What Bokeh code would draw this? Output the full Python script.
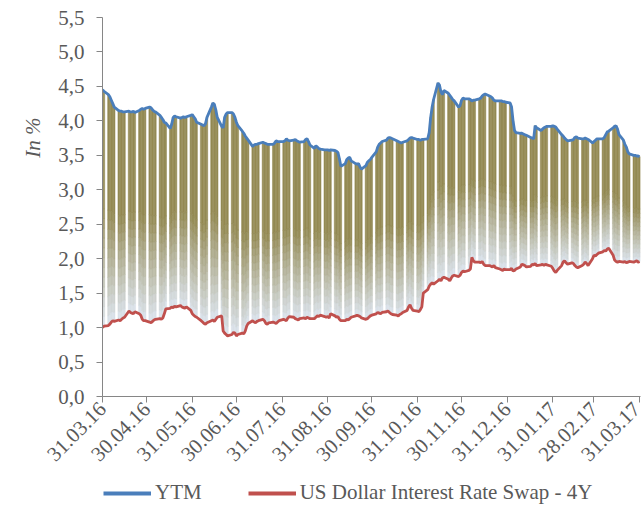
import math
import numpy as np
import pandas as pd
from bokeh.plotting import figure
from bokeh.layouts import column
from bokeh.models import (FixedTicker, CustomJSTickFormatter, Legend, LegendItem,
                          Title, Range1d, ColumnDataSource)
from bokeh.embed import file_html
from bokeh.resources import INLINE

# ---------------- data ----------------
dates = pd.bdate_range("2016-03-31", "2017-03-31")

ytm = [
    4.45, 4.43,
    4.38, 4.35, 4.30, 4.25, 4.20,
    4.15, 4.14, 4.14, 4.13, 4.13,
    4.14, 4.13, 4.13, 4.14, 4.12,
    4.15, 4.17, 4.18, 4.17, 4.18,
    4.20, 4.19, 4.16, 4.14, 4.13,
    4.08, 4.05, 4.02, 3.98, 3.97,
    3.89, 3.95, 4.05, 4.07, 4.06,
    4.04, 4.05, 4.06, 4.05, 4.06,
    4.08, 4.09, 4.06, 4.03, 3.98,
    3.95, 3.94, 3.93, 3.96, 4.05,
    4.20, 4.26, 4.24, 4.16, 4.05,
    3.92, 3.90, 4.05, 4.10, 4.12,
    4.12, 4.10, 4.05, 3.98, 3.93,
    3.85, 3.82, 3.78, 3.75, 3.72,
    3.63, 3.65, 3.66, 3.66, 3.67,
    3.69, 3.68, 3.67, 3.66, 3.66,
    3.66, 3.68, 3.71, 3.70, 3.70,
    3.70, 3.71, 3.74, 3.72, 3.71,
    3.72, 3.73, 3.71, 3.70, 3.69,
    3.70, 3.73, 3.74, 3.70, 3.65,
    3.60, 3.64, 3.62, 3.60, 3.59,
    3.58, 3.58, 3.58, 3.57, 3.58,
    3.57, 3.56, 3.54, 3.45, 3.34,
    3.38, 3.44, 3.46, 3.47, 3.42,
    3.38, 3.37, 3.38, 3.33, 3.30,
    3.35, 3.40, 3.42, 3.44, 3.47,
    3.55, 3.62, 3.66, 3.68, 3.70,
    3.72, 3.75, 3.76, 3.75, 3.74,
    3.71, 3.70, 3.69, 3.68, 3.69,
    3.71, 3.73, 3.75, 3.76, 3.75,
    3.73, 3.73, 3.72, 3.73, 3.73,
    3.74, 3.83, 4.05, 4.20, 4.31,
    4.55, 4.52, 4.42, 4.38, 4.44,
    4.40, 4.37, 4.34, 4.31, 4.29,
    4.20, 4.22, 4.30, 4.33, 4.32,
    4.32, 4.31, 4.29, 4.30, 4.30,
    4.32, 4.33, 4.36, 4.38, 4.39,
    4.36, 4.35, 4.33, 4.30, 4.29,
    4.29, 4.29, 4.28, 4.28, 4.27,
    4.26, 4.20, 4.00, 3.86, 3.83,
    3.82, 3.82, 3.81, 3.80, 3.79,
    3.76, 3.75, 3.74, 3.93, 3.90,
    3.86, 3.88, 3.90, 3.91, 3.92,
    3.92, 3.93, 3.92, 3.91, 3.88,
    3.80, 3.78, 3.75, 3.73, 3.71,
    3.72, 3.73, 3.76, 3.77, 3.75,
    3.74, 3.74, 3.75, 3.74, 3.73,
    3.68, 3.70, 3.72, 3.74, 3.74,
    3.74, 3.76, 3.80, 3.84, 3.85,
    3.90, 3.92, 3.93, 3.88, 3.80,
    3.72, 3.66, 3.62, 3.55, 3.52,
    3.50, 3.50, 3.49, 3.49, 3.48,
]

swap = [
    1.00, 1.02,
    1.03, 1.05, 1.08, 1.10, 1.09,
    1.11, 1.10, 1.12, 1.14, 1.15,
    1.24, 1.22, 1.21, 1.20, 1.23,
    1.20, 1.18, 1.12, 1.10, 1.10,
    1.08, 1.07, 1.09, 1.11, 1.12,
    1.13, 1.12, 1.14, 1.20, 1.27,
    1.28, 1.30, 1.29, 1.31, 1.30,
    1.32, 1.30, 1.29, 1.28, 1.30,
    1.25, 1.20, 1.18, 1.16, 1.15,
    1.10, 1.08, 1.06, 1.05, 1.07,
    1.10, 1.11, 1.09, 1.12, 1.15,
    1.17, 0.95, 0.92, 0.90, 0.88,
    0.90, 0.93, 0.92, 0.88, 0.90,
    0.92, 0.91, 0.95, 1.02, 1.06,
    1.10, 1.08, 1.07, 1.09, 1.10,
    1.12, 1.10, 1.06, 1.05, 1.07,
    1.08, 1.07, 1.06, 1.08, 1.10,
    1.12, 1.11, 1.10, 1.14, 1.16,
    1.15, 1.13, 1.12, 1.11, 1.13,
    1.14, 1.13, 1.15, 1.14, 1.13,
    1.13, 1.15, 1.17, 1.16, 1.18,
    1.16, 1.15, 1.16, 1.14, 1.20,
    1.17, 1.15, 1.16, 1.12, 1.10,
    1.10, 1.12, 1.11, 1.13, 1.15,
    1.17, 1.18, 1.17, 1.16, 1.14,
    1.12, 1.13, 1.15, 1.17, 1.18,
    1.20, 1.22, 1.21, 1.20, 1.22,
    1.23, 1.24, 1.22, 1.20, 1.19,
    1.18, 1.17, 1.19, 1.20, 1.22,
    1.25, 1.30, 1.33, 1.28, 1.25,
    1.24, 1.23, 1.26, 1.30, 1.50,
    1.55, 1.60, 1.63, 1.65, 1.63,
    1.68, 1.70, 1.68, 1.72, 1.73,
    1.70, 1.68, 1.72, 1.75, 1.76,
    1.74, 1.76, 1.80, 1.82, 1.81,
    1.83, 1.85, 2.02, 1.97, 1.95,
    1.95, 1.94, 1.96, 1.92, 1.90,
    1.90, 1.89, 1.88, 1.90, 1.87,
    1.85, 1.84, 1.83, 1.85, 1.84,
    1.84, 1.86, 1.82, 1.83, 1.85,
    1.88, 1.92, 1.91, 1.90, 1.88,
    1.89, 1.92, 1.91, 1.93, 1.90,
    1.91, 1.92, 1.90, 1.92, 1.91,
    1.89, 1.86, 1.82, 1.80, 1.83,
    1.90, 1.95, 1.97, 1.94, 1.92,
    1.94, 1.93, 1.90, 1.88, 1.87,
    1.90, 1.92, 1.95, 1.93, 1.90,
    2.00, 2.05, 2.04, 2.06, 2.08,
    2.10, 2.12, 2.11, 2.14, 2.15,
    2.05, 1.98, 1.96, 1.95, 1.96,
    1.95, 1.96, 1.94, 1.95, 1.96,
    1.95, 1.96, 1.97, 1.95, 1.96,
]

tick_dates = ["2016-03-31", "2016-04-30", "2016-05-31", "2016-06-30", "2016-07-31",
              "2016-08-31", "2016-09-30", "2016-10-31", "2016-11-30", "2016-12-31",
              "2017-01-31", "2017-02-28", "2017-03-31"]
y_ticks = [0.0, 0.5, 1.0, 1.5, 2.0, 2.5, 3.0, 3.5, 4.0, 4.5, 5.0, 5.5]

series_names = ["YTM", "US Dollar Interest Rate Swap - 4Y"]

assert len(ytm) == len(dates) and len(swap) == len(dates)

# ---------------- figure ----------------
DAY = 86400000.0
def ms(d):
    return pd.Timestamp(d).value / 1e6

x_ms = [ms(d) for d in dates]

FONT = "Liberation Serif"
FS = "21px"
TXT = "#595959"
AX = "#868686"
BLUE = "#4A7EBB"
RED = "#C0504D"
W = 641

p = figure(width=W, height=470, x_axis_type="datetime",
           output_backend="svg", toolbar_location=None,
           x_range=Range1d(ms(tick_dates[0]), ms(tick_dates[-1]) + 0.6 * DAY),
           y_range=Range1d(0, 5.5))
p.min_border_left = 102
p.min_border_right = 1
p.min_border_top = 17
p.min_border_bottom = 72
p.outline_line_color = None
p.xgrid.visible = False
p.ygrid.visible = False
p.background_fill_color = "white"
p.border_fill_color = "white"

# gradient bars between swap and ytm
olive = np.array([148, 138, 84], dtype=float)
light = np.array([220, 228, 238], dtype=float)
K = 12
L, R, B, T, C = [], [], [], [], []
for xm, lo, hi in zip(x_ms, swap, ytm):
    h = hi - lo
    for j in range(K):
        f0 = 0.5 * j / K
        f1 = 0.5 * (j + 1) / K
        t = (j + 0.5) / K
        col = light + (olive - light) * t
        L.append(xm - 0.5 * DAY); R.append(xm + 0.5 * DAY)
        B.append(lo + h * f0); T.append(lo + h * f1)
        C.append("#%02x%02x%02x" % tuple(int(round(v)) for v in col))
    L.append(xm - 0.5 * DAY); R.append(xm + 0.5 * DAY)
    B.append(lo + h * 0.5); T.append(hi)
    C.append("#%02x%02x%02x" % tuple(int(v) for v in olive))

bars = ColumnDataSource(dict(left=L, right=R, bottom=B, top=T, color=C))
p.quad(left="left", right="right", bottom="bottom", top="top", source=bars,
       fill_color="color", line_color="color", line_width=0.5)

p.line(x_ms, swap, line_color=RED, line_width=2.8)
p.line(x_ms, ytm, line_color=BLUE, line_width=2.8)

# axes
for ax in (p.xaxis[0], p.yaxis[0]):
    ax.axis_line_color = AX
    ax.major_tick_line_color = AX
    ax.minor_tick_line_color = None
    ax.major_tick_out = 6
    ax.major_tick_in = 0
    ax.major_label_text_font = FONT
    ax.major_label_text_font_size = FS
    ax.major_label_text_color = TXT

p.yaxis.ticker = FixedTicker(ticks=y_ticks)
p.yaxis.formatter = CustomJSTickFormatter(code="return tick.toFixed(1).replace('.', ',');")
p.yaxis.major_label_standoff = 12

p.xaxis.ticker = FixedTicker(ticks=[ms(d) for d in tick_dates])
p.xaxis.formatter = CustomJSTickFormatter(code="""
const d = new Date(tick);
const dd = String(d.getUTCDate()).padStart(2, '0');
const mm = String(d.getUTCMonth() + 1).padStart(2, '0');
const yy = String(d.getUTCFullYear() % 100).padStart(2, '0');
return dd + '.' + mm + '.' + yy;
""")
p.xaxis.major_label_orientation = math.pi / 4
p.xaxis.major_label_standoff = 3

# y axis title
p.add_layout(Title(text="In %", align="right", offset=100, standoff=22,
                   text_font=FONT, text_font_size=FS, text_font_style="italic",
                   text_color=TXT), "left")

# legend (separate strip below the chart)
lg = figure(width=W, height=36, output_backend="svg", toolbar_location=None,
            x_range=Range1d(0, 1), y_range=Range1d(0, 1))
lg.axis.visible = False
lg.xgrid.visible = False
lg.ygrid.visible = False
lg.outline_line_color = None
lg.min_border = 0
r1 = lg.line([0, 1], [-5, -5], line_color=BLUE, line_width=4)
r2 = lg.line([0, 1], [-5, -5], line_color=RED, line_width=4)
legend = Legend(items=[LegendItem(label=series_names[0], renderers=[r1]),
                       LegendItem(label=series_names[1], renderers=[r2])],
                orientation="horizontal", location=(1, 1),
                glyph_width=48, glyph_height=20, label_standoff=4, spacing=46,
                label_text_font=FONT, label_text_font_size=FS,
                label_text_color=TXT, border_line_color=None,
                background_fill_alpha=0, padding=2, margin=0)
lg.add_layout(legend)

open("out.html", "w").write(file_html(column(p, lg), INLINE))
